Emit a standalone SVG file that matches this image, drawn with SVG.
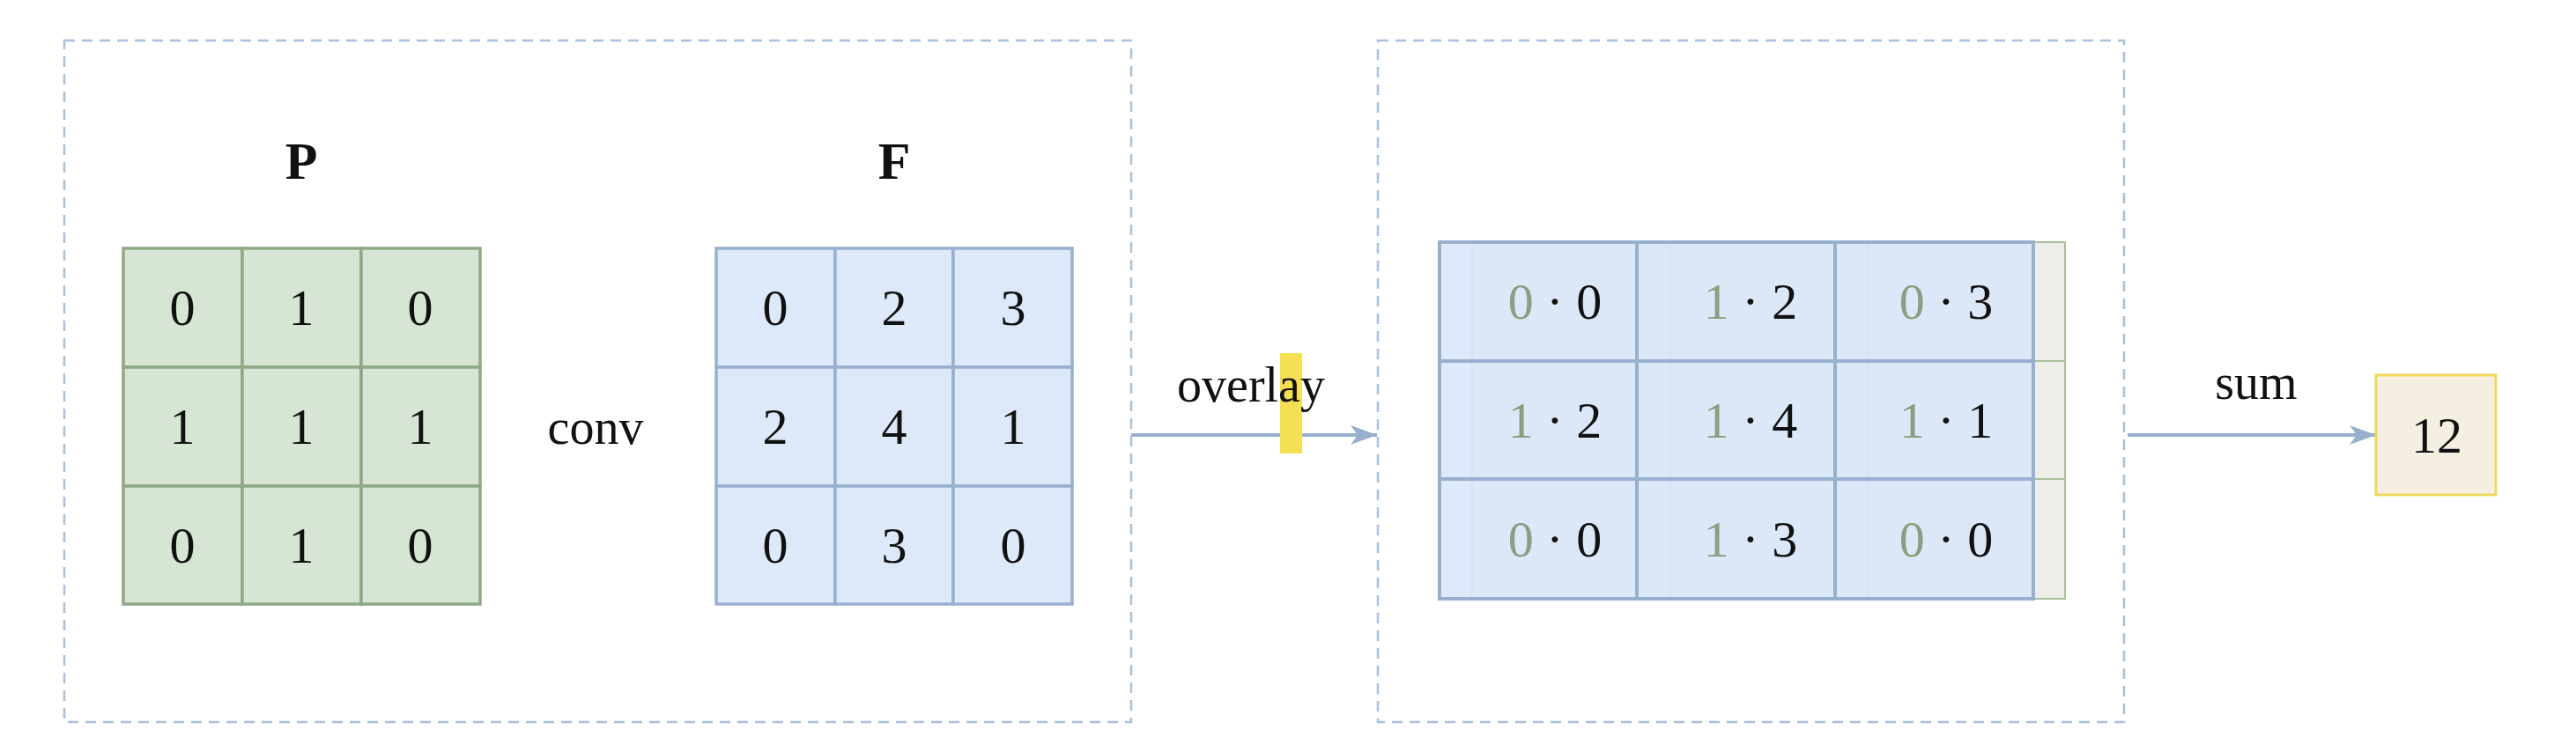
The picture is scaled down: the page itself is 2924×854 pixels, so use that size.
<svg xmlns="http://www.w3.org/2000/svg" width="2924" height="854" viewBox="0 0 2924 854">
<style>
.frame{fill:none;stroke:#A9C0DE;stroke-width:2.5;stroke-dasharray:12 8}
.g{fill:#D7E5D5;stroke:#8FA984;stroke-width:3.5}
.b{fill:#DDE8F8;stroke:#98B0CF;stroke-width:3.5}
.gb{fill:#ECEEE7;stroke:#A9C09C;stroke-width:2}
.bo{fill:#DAE7FA;fill-opacity:0.88;stroke:#98B0CF;stroke-width:4}
.t{font-family:"Liberation Serif","Times New Roman",serif;font-size:58px;fill:#111;text-anchor:middle}
.l{font-family:"Liberation Serif","Times New Roman",serif;font-size:56px;fill:#111;text-anchor:middle}
.h{font-family:"Liberation Serif","Times New Roman",serif;font-size:60px;font-weight:bold;fill:#111;text-anchor:middle}
.gd{fill:#8A9E80}
.edge{stroke:#98AFCB;stroke-width:4;fill:none}
</style>
<defs>
<marker id="arr" viewBox="0 0 30 22" refX="30" refY="11" markerWidth="30" markerHeight="22" markerUnits="userSpaceOnUse" orient="auto">
<path d="M30 11 L0 0 L8 11 L0 22 Z" fill="#98AFCB"/>
</marker>
</defs>
<rect width="2924" height="854" fill="#fff"/>
<g id="frame-left"><rect class="frame" x="73" y="46" width="1211" height="774"/></g>
<g id="frame-right"><rect class="frame" x="1564" y="46" width="847" height="774"/></g>

<g id="connectors">
<line class="edge" x1="1284" y1="494" x2="1563" y2="494" marker-end="url(#arr)"/>
<line class="edge" x1="2415" y1="494" x2="2697" y2="494" marker-end="url(#arr)"/>
</g>

<g id="label-overlay">
<rect x="1453" y="401" width="25" height="114" fill="#F4DF55"/>
<text class="l" x="1420" y="456">overlay</text>
</g>
<g id="label-sum"><text class="l" x="2561" y="453">sum</text></g>
<g id="label-conv"><text class="l" x="676" y="504">conv</text></g>

<g id="matrix-P">
<text class="h" x="342" y="203">P</text>
<rect class="g" x="140" y="282" width="135" height="135"/>
<rect class="g" x="275" y="282" width="135" height="135"/>
<rect class="g" x="410" y="282" width="135" height="135"/>
<rect class="g" x="140" y="417" width="135" height="135"/>
<rect class="g" x="275" y="417" width="135" height="135"/>
<rect class="g" x="410" y="417" width="135" height="135"/>
<rect class="g" x="140" y="552" width="135" height="134"/>
<rect class="g" x="275" y="552" width="135" height="134"/>
<rect class="g" x="410" y="552" width="135" height="134"/>
<text class="t" x="207" y="369">0</text><text class="t" x="342" y="369">1</text><text class="t" x="477" y="369">0</text>
<text class="t" x="207" y="504">1</text><text class="t" x="342" y="504">1</text><text class="t" x="477" y="504">1</text>
<text class="t" x="207" y="639">0</text><text class="t" x="342" y="639">1</text><text class="t" x="477" y="639">0</text>
</g>

<g id="matrix-F">
<text class="h" x="1015" y="203">F</text>
<rect class="b" x="813" y="282" width="135" height="135"/>
<rect class="b" x="948" y="282" width="134" height="135"/>
<rect class="b" x="1082" y="282" width="135" height="135"/>
<rect class="b" x="813" y="417" width="135" height="135"/>
<rect class="b" x="948" y="417" width="134" height="135"/>
<rect class="b" x="1082" y="417" width="135" height="135"/>
<rect class="b" x="813" y="552" width="135" height="134"/>
<rect class="b" x="948" y="552" width="134" height="134"/>
<rect class="b" x="1082" y="552" width="135" height="134"/>
<text class="t" x="880" y="369">0</text><text class="t" x="1015" y="369">2</text><text class="t" x="1150" y="369">3</text>
<text class="t" x="880" y="504">2</text><text class="t" x="1015" y="504">4</text><text class="t" x="1150" y="504">1</text>
<text class="t" x="880" y="639">0</text><text class="t" x="1015" y="639">3</text><text class="t" x="1150" y="639">0</text>
</g>

<g id="matrix-overlay">
<rect class="gb" x="1671" y="275" width="225" height="135"/>
<rect class="gb" x="1896" y="275" width="224" height="135"/>
<rect class="gb" x="2120" y="275" width="224" height="135"/>
<rect class="gb" x="1671" y="410" width="225" height="134"/>
<rect class="gb" x="1896" y="410" width="224" height="134"/>
<rect class="gb" x="2120" y="410" width="224" height="134"/>
<rect class="gb" x="1671" y="544" width="225" height="136"/>
<rect class="gb" x="1896" y="544" width="224" height="136"/>
<rect class="gb" x="2120" y="544" width="224" height="136"/>
<rect class="bo" x="1634" y="275" width="224" height="135"/>
<rect class="bo" x="1858" y="275" width="225" height="135"/>
<rect class="bo" x="2083" y="275" width="225" height="135"/>
<rect class="bo" x="1634" y="410" width="224" height="134"/>
<rect class="bo" x="1858" y="410" width="225" height="134"/>
<rect class="bo" x="2083" y="410" width="225" height="134"/>
<rect class="bo" x="1634" y="544" width="224" height="136"/>
<rect class="bo" x="1858" y="544" width="225" height="136"/>
<rect class="bo" x="2083" y="544" width="225" height="136"/>
<text class="t" x="1765" y="362"><tspan class="gd">0</tspan> · 0</text>
<text class="t" x="1987" y="362"><tspan class="gd">1</tspan> · 2</text>
<text class="t" x="2209" y="362"><tspan class="gd">0</tspan> · 3</text>
<text class="t" x="1765" y="497"><tspan class="gd">1</tspan> · 2</text>
<text class="t" x="1987" y="497"><tspan class="gd">1</tspan> · 4</text>
<text class="t" x="2209" y="497"><tspan class="gd">1</tspan> · 1</text>
<text class="t" x="1765" y="632"><tspan class="gd">0</tspan> · 0</text>
<text class="t" x="1987" y="632"><tspan class="gd">1</tspan> · 3</text>
<text class="t" x="2209" y="632"><tspan class="gd">0</tspan> · 0</text>
</g>

<g id="result">
<rect x="2697" y="426" width="136" height="136" fill="#F5EFE1" stroke="#F0D95A" stroke-width="3"/>
<text class="t" x="2766" y="514">12</text>
</g>
</svg>
